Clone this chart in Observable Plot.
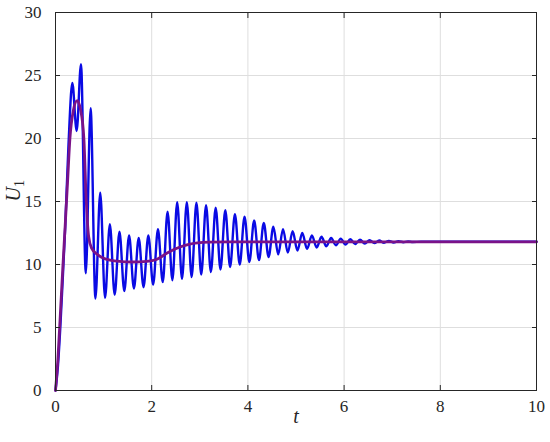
<!DOCTYPE html>
<html><head><meta charset="utf-8">
<script src="https://cdn.jsdelivr.net/npm/d3@7"></script>
<script src="https://cdn.jsdelivr.net/npm/@observablehq/plot@0.6"></script>
<style>body{margin:0;background:#fff;} svg, svg text, svg tspan, svg g{font-family:'Liberation Serif',serif !important;}</style>
</head><body><div id="chart"></div>
<script>
// Blue (oscillating) response: start-up then successive extrema
const tBlue = [0,0.05,0.1,0.15,0.2,0.27,0.35,0.44,0.53,0.63,0.73,0.83,0.93,1.03,1.13,1.23,1.33,1.43,1.53,1.63,1.73,1.83,1.93,2.03,2.13,2.23,2.33,2.43,2.53,2.63,2.73,2.83,2.93,3.03,3.13,3.23,3.33,3.43,3.53,3.63,3.73,3.83,3.93,4.03,4.13,4.23,4.33,4.43,4.53,4.63,4.73,4.83,4.93,5.03,5.13,5.23,5.33,5.43,5.53,5.63,5.73,5.83,5.93,6.03,6.13,6.23,6.33,6.43,6.53,6.63,6.73,6.83,6.93,7.03,7.13,7.23,7.33,7.43,7.6,10];
const uBlue = [0,1.9,5,8.8,12.8,19.5,24.4,20.6,25.9,9.3,22.4,7.3,15.7,7.35,13.2,7.6,12.6,7.9,12.3,8.1,12.1,8.2,12.3,8.4,12.8,8.6,14.2,8.75,14.95,8.85,14.95,9.0,14.9,9.2,14.7,9.4,14.5,9.6,14.3,9.8,14.0,10.0,13.8,10.2,13.5,10.35,13.3,10.6,13.0,10.8,12.8,10.95,12.65,11.1,12.5,11.24,12.3,11.35,12.2,11.45,12.1,11.53,12.05,11.58,12.0,11.62,11.97,11.66,11.93,11.7,11.9,11.73,11.87,11.75,11.85,11.77,11.83,11.79,11.8,11.8];
// Purple (smooth) response
const tPurple = [0,0.05,0.1,0.15,0.2,0.25,0.3,0.37,0.45,0.52,0.59,0.64,0.69,0.75,0.87,1.0,1.28,1.6,1.9,2.1,2.36,2.77,3.18,3.6,10];
const uPurple = [0,2.5,6,9.6,13,16.5,20,22.2,23,22.3,20,15,12.2,11.3,10.8,10.5,10.27,10.2,10.25,10.4,11.0,11.6,11.77,11.8,11.8];
const xTicks = [0,2,4,6,8,10];
const yTicks = [0,5,10,15,20,25,30];
const xLabel = "t";
const yLabel = "U";
const ySub = "1";

const blue = tBlue.map((t, i) => ({t, u: uBlue[i]}));
const purple = tPurple.map((t, i) => ({t, u: uPurple[i]}));

const font = "Liberation Serif";
const axisColor = "#262626";
const plot = Plot.plot({
  width: 550, height: 442,
  marginLeft: 55, marginRight: 14, marginTop: 12, marginBottom: 52,
  style: {fontFamily: font, fontSize: "17px", color: axisColor, background: "#fff"},
  x: {domain: [0, 10]},
  y: {domain: [0, 30]},
  marks: [
    Plot.gridX(xTicks, {stroke: "#dedede", strokeOpacity: 1}),
    Plot.gridY(yTicks, {stroke: "#dedede", strokeOpacity: 1}),
    Plot.line(blue, {x: "t", y: "u", stroke: "#0a0ae4", strokeWidth: 2.4, curve: "monotone-x"}),
    Plot.line(purple, {x: "t", y: "u", stroke: "#7a1288", strokeWidth: 2.8, curve: "monotone-x"}),
    Plot.axisX(xTicks, {anchor: "bottom", tickSize: -5, tickPadding: 14, label: null, fontSize: 17}),
    Plot.axisX(xTicks, {anchor: "top", tickSize: -5, tickFormat: () => "", label: null}),
    Plot.axisY(yTicks, {anchor: "left", tickSize: -5, tickPadding: 19, label: null, fontSize: 17}),
    Plot.axisY(yTicks, {anchor: "right", tickSize: -5, tickFormat: () => "", label: null}),
    Plot.frame({stroke: axisColor, strokeWidth: 1}),
    Plot.text([xLabel], {frameAnchor: "bottom", dy: 26, fontStyle: "italic", fontSize: 20, lineAnchor: "middle"}),
    Plot.text([yLabel], {frameAnchor: "left", dx: -42, rotate: -90, fontStyle: "italic", fontSize: 20, lineAnchor: "middle"})
  ]
});
// force the serif family on every text element and add the subscript to the y label
d3.select(plot).selectAll("text").style("font-family", "'Liberation Serif', serif");
d3.select(plot).selectAll("text").filter(function() { return this.textContent === yLabel && this.getAttribute("transform") && this.getAttribute("transform").includes("rotate"); })
  .each(function() {
    d3.select(this).append("tspan").attr("dy", "0.3em").attr("font-style", "normal").attr("font-size", 14).text(ySub);
  });
document.getElementById("chart").appendChild(plot);
</script>
</body></html>
